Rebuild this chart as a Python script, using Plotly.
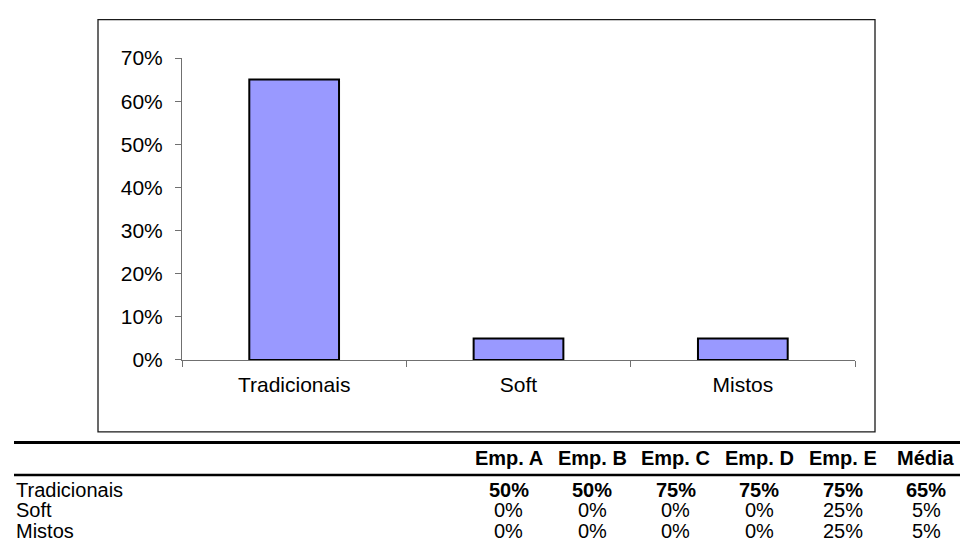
import plotly.graph_objects as go

# Chart data: average share per type of programme
categories = ["Tradicionais", "Soft", "Mistos"]
companies = ["Emp. A", "Emp. B", "Emp. C", "Emp. D", "Emp. E"]
avg_label = "Média"
tradicionais = [0.50, 0.50, 0.75, 0.75, 0.75]
soft = [0.00, 0.00, 0.00, 0.00, 0.25]
mistos = [0.00, 0.00, 0.00, 0.00, 0.25]
media = [0.65, 0.05, 0.05]
y_ticks = [0, 0.1, 0.2, 0.3, 0.4, 0.5, 0.6, 0.7]

W, H = 960, 555
FONT = "Liberation Sans, Arial, sans-serif"
FS_CHART = 21
FS_TABLE = 20


def px(x):
    return x / W


def py(y):
    return 1 - y / H


fig = go.Figure()
fig.add_trace(go.Bar(
    x=categories, y=media,
    marker=dict(color="#9999FF", line=dict(color="#000000", width=2)),
    showlegend=False, hoverinfo="skip",
))

shapes = []
# Chart frame
shapes.append(dict(type="rect", xref="paper", yref="paper",
                   x0=px(98), x1=px(875), y0=py(438), y1=py(8),
                   line=dict(color="#1a1a1a", width=1.3), layer="below"))
# Table rules
shapes.append(dict(type="line", xref="paper", yref="paper",
                   x0=px(14), x1=px(960), y0=py(449), y1=py(449),
                   line=dict(color="#000000", width=3)))
shapes.append(dict(type="line", xref="paper", yref="paper",
                   x0=px(14), x1=px(960), y0=py(483), y1=py(483),
                   line=dict(color="#000000", width=2.5)))

annotations = []
col_x = [509 + 83.4 * i for i in range(6)]
header_y = 465
row_y = [499, 520, 541]

headers = companies + [avg_label]
for cx, h in zip(col_x, headers):
    annotations.append(dict(xref="paper", yref="paper", x=px(cx), y=py(header_y),
                            text=f"<b>{h}</b>", showarrow=False,
                            xanchor="center", yanchor="middle",
                            font=dict(family=FONT, size=FS_TABLE, color="#000")))

rows = [tradicionais, soft, mistos]
for r, (name, vals, ry) in enumerate(zip(categories, rows, row_y)):
    annotations.append(dict(xref="paper", yref="paper", x=px(14), y=py(ry),
                            text=name, showarrow=False,
                            xanchor="left", yanchor="middle",
                            font=dict(family=FONT, size=FS_TABLE, color="#000")))
    cells = vals + [media[r]]
    for cx, v in zip(col_x, cells):
        txt = f"{v:.0%}"
        if r == 0:
            txt = f"<b>{txt}</b>"
        annotations.append(dict(xref="paper", yref="paper", x=px(cx), y=py(ry),
                                text=txt, showarrow=False,
                                xanchor="center", yanchor="middle",
                                font=dict(family=FONT, size=FS_TABLE, color="#000")))

fig.update_layout(
    width=W, height=H,
    margin=dict(l=0, r=0, t=0, b=0),
    paper_bgcolor="white", plot_bgcolor="white",
    bargap=0.6,
    font=dict(family=FONT, size=FS_CHART, color="#000"),
    shapes=shapes, annotations=annotations,
    xaxis=dict(domain=[px(182), px(855)], range=[-0.5, 2.5],
               showline=True, linecolor="#707070", linewidth=1,
               ticks="outside", tickson="boundaries", ticklen=6,
               tickcolor="#707070", showgrid=False, zeroline=False,
               ticklabelstandoff=6,
               tickfont=dict(family=FONT, size=FS_CHART, color="#000")),
    yaxis=dict(domain=[py(363), py(48)], range=[0, 0.7],
               tickvals=y_ticks, tickformat=".0%",
               showline=True, linecolor="#707070", linewidth=1,
               ticks="outside", ticklen=6, tickcolor="#707070",
               showgrid=False, zeroline=False, ticklabelstandoff=8,
               tickfont=dict(family=FONT, size=FS_CHART, color="#000")),
)

fig.write_html("out.html")
